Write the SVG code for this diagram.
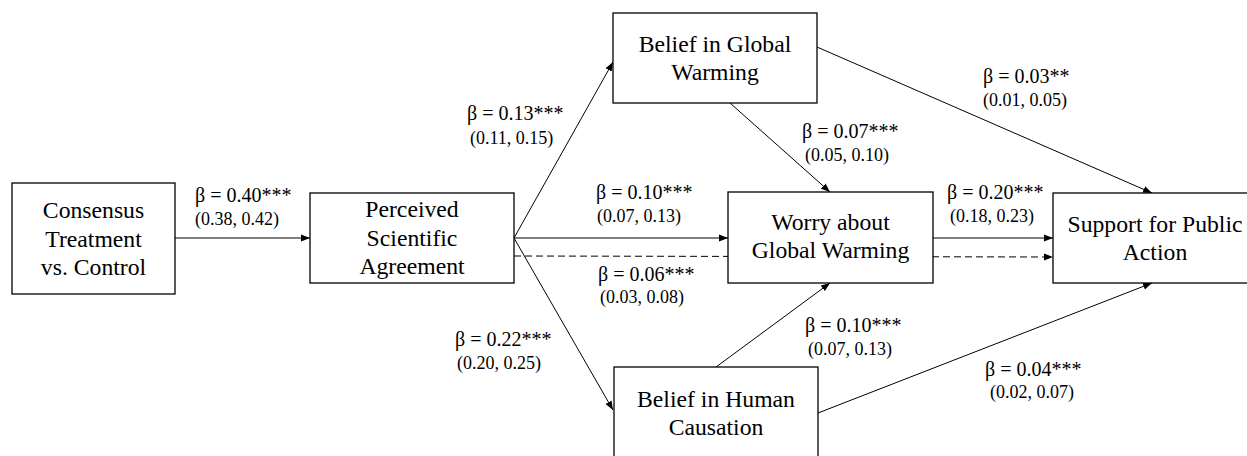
<svg xmlns="http://www.w3.org/2000/svg" width="1247" height="456" viewBox="0 0 1247 456">
<style>
.box{fill:#fff;stroke:#000;stroke-width:1.3}
.nt{font-family:"Liberation Serif","Times New Roman",serif;font-size:23.7px;fill:#000;text-anchor:middle}
.lb{font-family:"Liberation Serif","Times New Roman",serif;font-size:20px;fill:#000}
.ci{font-family:"Liberation Serif","Times New Roman",serif;font-size:18px;fill:#000}
.ln{stroke:#000;stroke-width:1;fill:none}
.dash{stroke-dasharray:7,4}
</style>
<defs>
<marker id="ah" markerWidth="10" markerHeight="8" refX="9" refY="4" orient="auto" markerUnits="userSpaceOnUse">
<path d="M0,0.5 L9,4 L0,7.5 Z" fill="#000"/>
</marker>
</defs>
<rect width="1247" height="456" fill="#fff"/>
<g id="connectors">
<line class="ln" x1="175" y1="238" x2="310" y2="238" marker-end="url(#ah)"/>
<line class="ln" x1="514" y1="238" x2="613" y2="62" marker-end="url(#ah)"/>
<line class="ln" x1="514" y1="238" x2="728" y2="238" marker-end="url(#ah)"/>
<line class="ln dash" x1="514" y1="256" x2="1053" y2="257" marker-end="url(#ah)"/>
<line class="ln" x1="514" y1="238" x2="613" y2="410" marker-end="url(#ah)"/>
<line class="ln" x1="730" y1="103" x2="830" y2="192" marker-end="url(#ah)"/>
<line class="ln" x1="817" y1="47" x2="1152" y2="193" marker-end="url(#ah)"/>
<line class="ln" x1="933" y1="238" x2="1053" y2="238" marker-end="url(#ah)"/>
<line class="ln" x1="716" y1="367" x2="830" y2="283" marker-end="url(#ah)"/>
<line class="ln" x1="818" y1="413" x2="1152" y2="283" marker-end="url(#ah)"/>
</g>
<g id="labels">
<text class="lb" x="195" y="202">β = 0.40***</text>
<text class="ci" x="195" y="225">(0.38, 0.42)</text>
<text class="lb" x="467" y="120">β = 0.13***</text>
<text class="ci" x="470" y="144">(0.11, 0.15)</text>
<text class="lb" x="596" y="199">β = 0.10***</text>
<text class="ci" x="597" y="222">(0.07, 0.13)</text>
<text class="lb" x="598" y="281">β = 0.06***</text>
<text class="ci" x="600" y="303">(0.03, 0.08)</text>
<text class="lb" x="455" y="346">β = 0.22***</text>
<text class="ci" x="457" y="369">(0.20, 0.25)</text>
<text class="lb" x="802" y="138">β = 0.07***</text>
<text class="ci" x="805" y="161">(0.05, 0.10)</text>
<text class="lb" x="983" y="83">β = 0.03**</text>
<text class="ci" x="983" y="106">(0.01, 0.05)</text>
<text class="lb" x="947" y="199">β = 0.20***</text>
<text class="ci" x="950" y="222">(0.18, 0.23)</text>
<text class="lb" x="805" y="332">β = 0.10***</text>
<text class="ci" x="808" y="355">(0.07, 0.13)</text>
<text class="lb" x="985" y="376">β = 0.04***</text>
<text class="ci" x="990" y="398">(0.02, 0.07)</text>
</g>
<g id="consensus">
<rect class="box" x="12" y="183" width="163" height="111"/>
<text class="nt" x="93.5" y="218">Consensus</text>
<text class="nt" x="93.5" y="247">Treatment</text>
<text class="nt" x="93.5" y="275">vs. Control</text>
</g>
<g id="perceived">
<rect class="box" x="310" y="193" width="204" height="90"/>
<text class="nt" x="412" y="217">Perceived</text>
<text class="nt" x="412" y="246">Scientific</text>
<text class="nt" x="412" y="274">Agreement</text>
</g>
<g id="belief-global">
<rect class="box" x="613" y="13" width="204" height="90"/>
<text class="nt" x="715" y="52">Belief in Global</text>
<text class="nt" x="715" y="80">Warming</text>
</g>
<g id="worry">
<rect class="box" x="728" y="192" width="205" height="91"/>
<text class="nt" x="830.5" y="230">Worry about</text>
<text class="nt" x="830.5" y="258">Global Warming</text>
</g>
<g id="belief-human">
<rect class="box" x="614" y="367" width="204" height="90"/>
<text class="nt" x="716" y="407">Belief in Human</text>
<text class="nt" x="716" y="435">Causation</text>
</g>
<g id="support">
<rect class="box" x="1053" y="193" width="204" height="90"/>
<text class="nt" x="1155" y="232">Support for Public</text>
<text class="nt" x="1155" y="260">Action</text>
</g>
</svg>
